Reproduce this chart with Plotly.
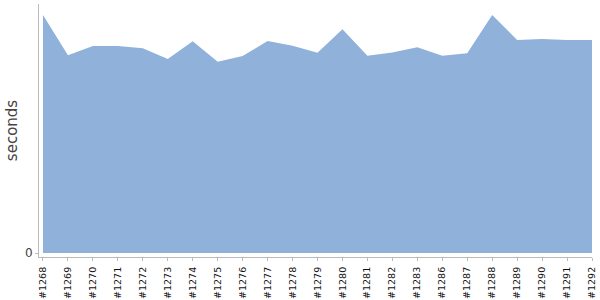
import plotly.graph_objects as go

builds = ["#1268", "#1269", "#1270", "#1271", "#1272", "#1273", "#1274", "#1275",
          "#1276", "#1277", "#1278", "#1279", "#1280", "#1281", "#1282", "#1283",
          "#1286", "#1287", "#1288", "#1289", "#1290", "#1291", "#1292"]
seconds = [238, 197.7, 207, 207, 204.7, 194, 211.7, 191.3, 197, 212, 207.3, 200.3,
           223.7, 197.3, 200.5, 205.7, 197.3, 199.7, 238, 213, 214, 213, 213]

fig = go.Figure()
fig.add_trace(go.Scatter(
    x=builds, y=seconds, mode="lines", fill="tozeroy",
    line=dict(width=0, color="#8fb1da"), fillcolor="#8fb1da",
    hoverinfo="skip", showlegend=False,
))

fig.update_layout(
    width=600, height=300,
    margin=dict(l=39, r=8, t=4, b=43),
    paper_bgcolor="white", plot_bgcolor="white",
    font=dict(family="DejaVu Sans", color="#333"),
)
fig.update_xaxes(
    type="category", range=[-0.16, 22.0], automargin=False,
    showline=True, linecolor="#bbbbbb", linewidth=1,
    ticks="outside", ticklen=3, tickcolor="#bbbbbb",
    tickangle=-90, tickfont=dict(size=9.5, color="#111"),
    ticklabelstandoff=2,
    showgrid=False, zeroline=False,
)
fig.update_yaxes(
    range=[-4, 249], tickvals=[0], ticktext=["0"], automargin=False,
    showline=True, linecolor="#bbbbbb", linewidth=1,
    ticks="outside", ticklen=3, tickcolor="#bbbbbb",
    tickfont=dict(size=12, color="#444"),
    showgrid=False, zeroline=False,
    title=dict(text="seconds", font=dict(size=15, color="#444"), standoff=3),
)

fig.write_html("out.html")
